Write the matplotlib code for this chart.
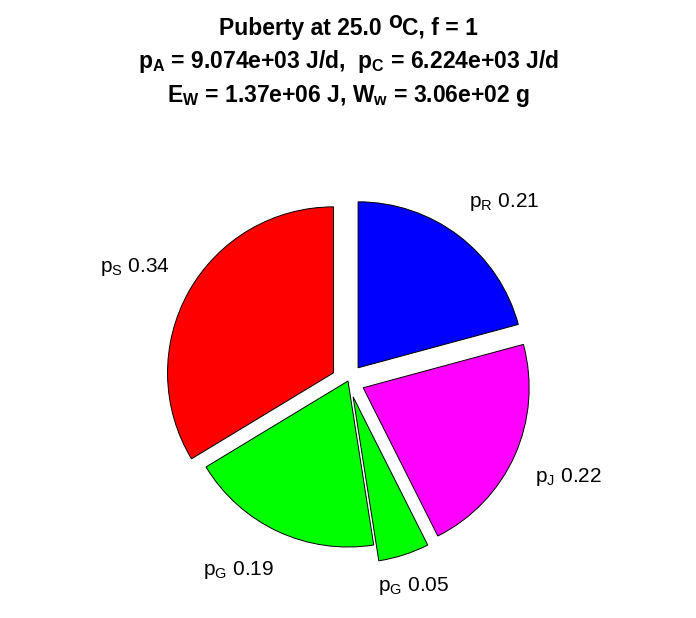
import numpy as np
import matplotlib
matplotlib.use('Agg')
import matplotlib.pyplot as plt

plt.rcParams['font.family'] = ['Liberation Sans', 'DejaVu Sans']
plt.rcParams['mathtext.fontset'] = 'custom'
plt.rcParams['mathtext.rm'] = 'Liberation Sans'
plt.rcParams['mathtext.it'] = 'Liberation Sans'
plt.rcParams['mathtext.bf'] = 'Liberation Sans:bold'

# fractions, counterclockwise from 12 o'clock
names = ['S', 'G', 'G', 'J', 'R']
fracs = [0.34, 0.19, 0.05, 0.22, 0.21]
cols = ['#ff0000', '#00ff00', '#00ff00', '#ff00ff', '#0000ff']
expl = [0.1, 0.0, 0.1, 0.1, 0.1]

title1 = ['Puberty at 25.0 ', 'o', 'C, f = 1']
title_lines = [r'$\mathbf{p_A}$ = 9.074e+03 J/d,  $\mathbf{p_C}$ = 6.224e+03 J/d',
               r'$\mathbf{E_W}$ = 1.37e+06 J, $\mathbf{W_w}$ = 3.06e+02 g']

W, H = 696, 618
fig = plt.figure(figsize=(W/100, H/100), dpi=100)
# pie radius = 166 px, centre at (348, 381) from top-left
R = 166.0
lim = 1.3
ax = fig.add_axes([(348 - lim*R)/W, (H - 381 - lim*R)/H, 2*lim*R/W, 2*lim*R/H])

wedges, _ = ax.pie(fracs, explode=expl, colors=cols, startangle=90,
                   counterclock=True,
                   wedgeprops=dict(edgecolor='black', linewidth=0.7))
ax.set_xlim(-lim, lim)
ax.set_ylim(-lim, lim)
ax.set_aspect('equal')
ax.axis('off')

for w, n, f, e in zip(wedges, names, fracs, expl):
    a = np.deg2rad((w.theta1 + w.theta2) / 2)
    x, y = (1.2 + e)*np.cos(a), (1.2 + e)*np.sin(a)
    dx, dy = 0, 0
    if np.cos(a) > 0.35:
        ha = 'left'
        dx, dy = -10, 8*np.sign(np.sin(a))
    elif np.cos(a) < -0.35:
        ha = 'right'
        dx, dy = 10, 8*np.sign(np.sin(a))
    else:
        ha = 'center'
    ax.annotate(r'$\mathrm{p_%s}$ %.2f' % (n, f), (x, y), xytext=(dx, dy),
                textcoords='offset pixels', ha=ha, va='center', fontsize=15)

# first title line: full-size raised "o" for degrees
fs = 16.5
r = fig.canvas.get_renderer()
parts = [fig.text(0, 0, s, fontsize=fs, fontweight='bold') for s in title1]
widths = [p.get_window_extent(r).width for p in parts]
x0 = 348.5 - sum(widths)/2
raise_px = [0, 7, 0]
for p, wd, rp in zip(parts, widths, raise_px):
    p.set_position((x0/W, 1 - (35 - rp)/H))
    p.set_va('baseline')
    x0 += wd

ys = [68, 102]
for t, yy in zip(title_lines, ys):
    fig.text(348.5/W, 1 - yy/H, t, ha='center', va='baseline',
             fontsize=fs, fontweight='bold')

fig.savefig('out.png', dpi=100)
